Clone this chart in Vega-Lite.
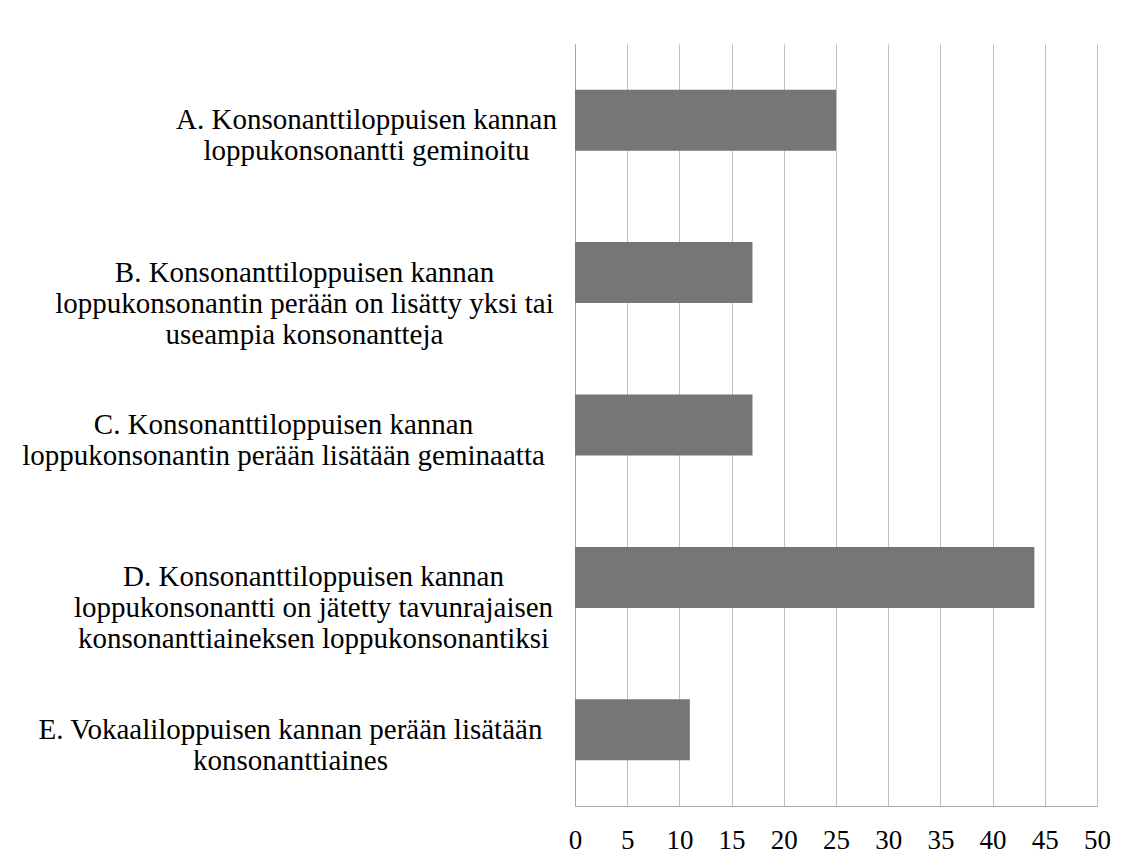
{
  "$schema": "https://vega.github.io/schema/vega-lite/v6.json",
  "width": 522,
  "height": 762,
  "autosize": {"type": "none"},
  "padding": {"left": 575, "top": 44, "right": 46, "bottom": 62},
  "background": "white",
  "config": {"view": {"stroke": null}, "font": "Liberation Serif"},
  "data": {
    "values": [
      {"category": "A. Konsonanttiloppuisen kannan|loppukonsonantti geminoitu", "value": 25},
      {"category": "B. Konsonanttiloppuisen kannan|loppukonsonantin perään on lisätty yksi tai|useampia konsonantteja", "value": 17},
      {"category": "C. Konsonanttiloppuisen kannan|loppukonsonantin perään lisätään geminaatta", "value": 17},
      {"category": "D. Konsonanttiloppuisen kannan|loppukonsonantti on jätetty tavunrajaisen|konsonanttiaineksen loppukonsonantiksi", "value": 44},
      {"category": "E. Vokaaliloppuisen kannan perään lisätään|konsonanttiaines", "value": 11}
    ]
  },
  "mark": {"type": "bar", "color": "#767676"},
  "encoding": {
    "y": {
      "field": "category",
      "type": "nominal",
      "sort": null,
      "scale": {"paddingInner": 0.6, "paddingOuter": 0.3},
      "axis": {
        "title": null,
        "ticks": false,
        "domain": true,
        "domainColor": "#a6a6a6",
        "domainWidth": 1,
        "grid": false,
        "labelExpr": "split(datum.label, '|')",
        "labelAlign": "center",
        "labelBaseline": "middle",
        "labelPadding": {
          "condition": [
            {"test": "substring(datum.value, 0, 1) == 'A'", "value": 209},
            {"test": "substring(datum.value, 0, 1) == 'B'", "value": 271},
            {"test": "substring(datum.value, 0, 1) == 'C'", "value": 292},
            {"test": "substring(datum.value, 0, 1) == 'D'", "value": 262}
          ],
          "value": 285
        },
        "labelFontSize": 29,
        "labelLineHeight": 31,
        "labelColor": "#000000",
        "labelLimit": 0
      }
    },
    "x": {
      "field": "value",
      "type": "quantitative",
      "scale": {"domain": [0, 50], "nice": false},
      "axis": {
        "title": null,
        "values": [0, 5, 10, 15, 20, 25, 30, 35, 40, 45, 50],
        "grid": true,
        "gridColor": "#bfbfbf",
        "gridWidth": 1,
        "ticks": false,
        "domainColor": "#a6a6a6",
        "labelFontSize": 27,
        "labelPadding": 21,
        "labelColor": "#000000",
        "labelFlush": false,
        "labelOverlap": false
      }
    }
  }
}
